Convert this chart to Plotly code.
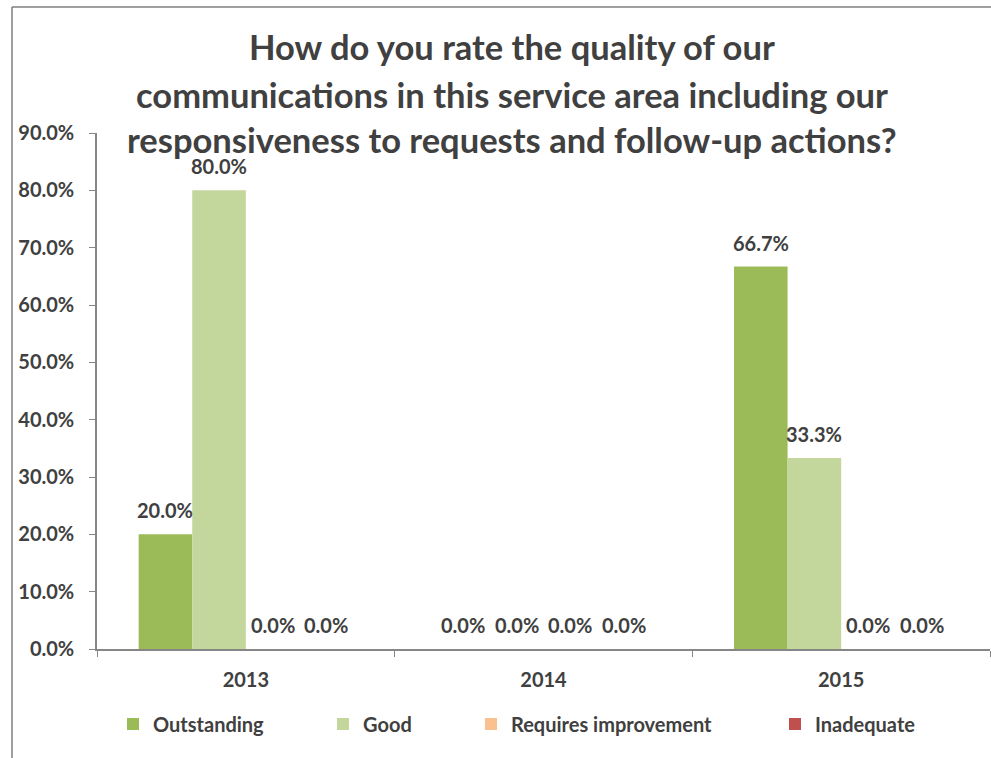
import plotly.graph_objects as go

years = ["2013", "2014", "2015"]
series_names = ["Outstanding", "Good", "Requires improvement", "Inadequate"]
outstanding = [0.200, 0.0, 0.667]
good = [0.800, 0.0, 0.333]
requires_improvement = [0.0, 0.0, 0.0]
inadequate = [0.0, 0.0, 0.0]
series_colors = ["#9BBB59", "#C3D69B", "#FAC090", "#C0504D"]
title_lines = [
    "How do you rate the quality of our",
    "communications in this service area including our",
    "responsiveness to requests and follow-up actions?",
]

W, H = 991, 758
L, R, T, B = 97, 1, 133, 109
plot_w = W - L - R
plot_h = H - T - B
BARGAP = 0.28

FONT = "Lato"
TXT = "#404040"
AXIS = "#868686"


def px_x(x):
    return (x - L) / plot_w


def px_y(y):
    return (H - B - y) / plot_h


fig = go.Figure()
values = [outstanding, good, requires_improvement, inadequate]
legend_ids = ["legend", "legend2", "legend3", "legend4"]
for name, vals, color, lg in zip(series_names, values, series_colors, legend_ids):
    fig.add_trace(go.Bar(
        x=years, y=vals, name=name, marker=dict(color=color, line=dict(width=0)),
        legend=lg,
    ))

# value labels above each bar, shifted sideways to the bar's slot in its group
# (category axes place annotations by category index)
cat_w = plot_w / len(years)
bar_w = (1 - BARGAP) * cat_w / len(series_names)
annotations = []
for i, vals in enumerate(values):
    xshift = (i - (len(series_names) - 1) / 2) * bar_w
    for j, v in enumerate(vals):
        annotations.append(dict(
            text=f"<b>{v:.1%}</b>", x=j, y=v, xref="x", yref="y",
            xanchor="center", yanchor="bottom", xshift=xshift, yshift=10,
            showarrow=False,
            font=dict(family=FONT, size=20, color=TXT),
        ))

# one legend box per series, laid out in a row under the axis
legend_x = [113, 323, 471, 775]
legend_common = dict(
    orientation="h", yanchor="middle", xanchor="left",
    font=dict(family=FONT, size=20, color=TXT, weight="bold"),
    bgcolor="rgba(0,0,0,0)", borderwidth=0,
)
legend_layout = {}
for lg, lx in zip(legend_ids, legend_x):
    legend_layout[lg] = dict(legend_common, x=px_x(lx), y=px_y(724))

for line, yc in zip(title_lines, [47, 94, 139]):
    annotations.append(dict(
        text=f"<b>{line}</b>", xref="paper", yref="paper", x=px_x(512), y=px_y(yc),
        xanchor="center", yanchor="middle", showarrow=False,
        font=dict(family=FONT, size=34.5, color=TXT),
    ))

# chart frame: left and top edges
shapes = [
    dict(type="line", xref="paper", yref="paper", x0=px_x(12), x1=px_x(12),
         y0=px_y(7), y1=px_y(H + 2), line=dict(color="#7F7F7F", width=1.5)),
    dict(type="line", xref="paper", yref="paper", x0=px_x(12), x1=px_x(W + 2),
         y0=px_y(7), y1=px_y(7), line=dict(color="#7F7F7F", width=1.5)),
]

fig.update_layout(
    width=W, height=H,
    margin=dict(l=L, r=R, t=T, b=B, pad=0),
    paper_bgcolor="white", plot_bgcolor="white",
    barmode="group", bargap=BARGAP, bargroupgap=0,
    showlegend=True,
    annotations=annotations, shapes=shapes,
    **legend_layout,
)
fig.update_xaxes(
    type="category", range=[-0.5, len(years) - 0.5],
    showline=True, linecolor=AXIS, linewidth=1.5,
    ticks="outside", tickson="boundaries", ticklen=6, tickcolor=AXIS,
    ticklabelstandoff=12,
    showgrid=False, zeroline=False,
    tickfont=dict(family=FONT, size=20, color=TXT, weight="bold"),
)
fig.update_yaxes(
    range=[0, 0.9], dtick=0.1, tickformat=".1%",
    showline=True, linecolor=AXIS, linewidth=1.5,
    ticks="outside", ticklen=6, tickcolor=AXIS,
    ticklabelstandoff=11,
    showgrid=False, zeroline=False,
    tickfont=dict(family=FONT, size=20, color=TXT, weight="bold"),
)

fig.write_html("out.html")
